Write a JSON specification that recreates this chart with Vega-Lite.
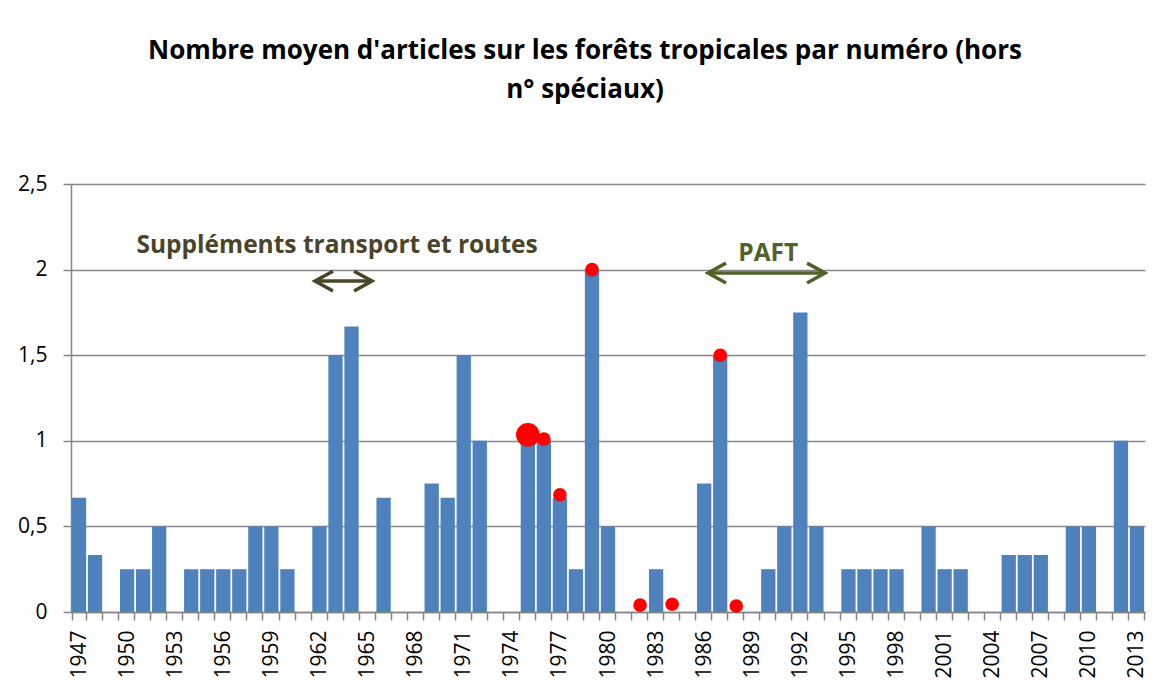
{
  "$schema": "https://vega.github.io/schema/vega-lite/v6.json",
  "width": 1074,
  "height": 428,
  "autosize": {"type": "none"},
  "padding": {"left": 71, "top": 184, "right": 8, "bottom": 85},
  "background": "white",
  "config": {
    "view": {"stroke": null},
    "font": "Open Sans",
    "title": {"font": "Open Sans", "fontSize": 26, "fontWeight": "bold", "color": "#000000", "lineHeight": 39, "anchor": "middle", "offset": 70, "dx": -23}
  },
  "title": {"text": ["Nombre moyen d'articles sur les forêts tropicales par numéro (hors", "n° spéciaux)"]},
  "datasets": {
    "barres": [
      {"annee": 1947, "valeur": 0.667}, {"annee": 1948, "valeur": 0.333}, {"annee": 1949, "valeur": 0},
      {"annee": 1950, "valeur": 0.25}, {"annee": 1951, "valeur": 0.25}, {"annee": 1952, "valeur": 0.5},
      {"annee": 1953, "valeur": 0}, {"annee": 1954, "valeur": 0.25}, {"annee": 1955, "valeur": 0.25},
      {"annee": 1956, "valeur": 0.25}, {"annee": 1957, "valeur": 0.25}, {"annee": 1958, "valeur": 0.5},
      {"annee": 1959, "valeur": 0.5}, {"annee": 1960, "valeur": 0.25}, {"annee": 1961, "valeur": 0},
      {"annee": 1962, "valeur": 0.5}, {"annee": 1963, "valeur": 1.5}, {"annee": 1964, "valeur": 1.667},
      {"annee": 1965, "valeur": 0}, {"annee": 1966, "valeur": 0.667}, {"annee": 1967, "valeur": 0},
      {"annee": 1968, "valeur": 0}, {"annee": 1969, "valeur": 0.75}, {"annee": 1970, "valeur": 0.667},
      {"annee": 1971, "valeur": 1.5}, {"annee": 1972, "valeur": 1.0}, {"annee": 1973, "valeur": 0},
      {"annee": 1974, "valeur": 0}, {"annee": 1975, "valeur": 1.0}, {"annee": 1976, "valeur": 1.0},
      {"annee": 1977, "valeur": 0.667}, {"annee": 1978, "valeur": 0.25}, {"annee": 1979, "valeur": 2.0},
      {"annee": 1980, "valeur": 0.5}, {"annee": 1981, "valeur": 0}, {"annee": 1982, "valeur": 0},
      {"annee": 1983, "valeur": 0.25}, {"annee": 1984, "valeur": 0}, {"annee": 1985, "valeur": 0},
      {"annee": 1986, "valeur": 0.75}, {"annee": 1987, "valeur": 1.5}, {"annee": 1988, "valeur": 0},
      {"annee": 1989, "valeur": 0}, {"annee": 1990, "valeur": 0.25}, {"annee": 1991, "valeur": 0.5},
      {"annee": 1992, "valeur": 1.75}, {"annee": 1993, "valeur": 0.5}, {"annee": 1994, "valeur": 0},
      {"annee": 1995, "valeur": 0.25}, {"annee": 1996, "valeur": 0.25}, {"annee": 1997, "valeur": 0.25},
      {"annee": 1998, "valeur": 0.25}, {"annee": 1999, "valeur": 0}, {"annee": 2000, "valeur": 0.5},
      {"annee": 2001, "valeur": 0.25}, {"annee": 2002, "valeur": 0.25}, {"annee": 2003, "valeur": 0},
      {"annee": 2004, "valeur": 0}, {"annee": 2005, "valeur": 0.333}, {"annee": 2006, "valeur": 0.333},
      {"annee": 2007, "valeur": 0.333}, {"annee": 2008, "valeur": 0}, {"annee": 2009, "valeur": 0.5},
      {"annee": 2010, "valeur": 0.5}, {"annee": 2011, "valeur": 0}, {"annee": 2012, "valeur": 1.0},
      {"annee": 2013, "valeur": 0.5}
    ],
    "points": [
      {"annee": 1975, "valeur": 1.035, "poids": 2},
      {"annee": 1976, "valeur": 1.01, "poids": 1},
      {"annee": 1977, "valeur": 0.685, "poids": 1},
      {"annee": 1979, "valeur": 2.0, "poids": 1},
      {"annee": 1982, "valeur": 0.04, "poids": 1},
      {"annee": 1984, "valeur": 0.045, "poids": 1},
      {"annee": 1987, "valeur": 1.5, "poids": 1},
      {"annee": 1988, "valeur": 0.035, "poids": 1}
    ],
    "fleches": [
      {"nom": "Suppléments", "debut": 1961.72, "fin": 1965.28, "valeur": 1.933},
      {"nom": "PAFT", "debut": 1986.24, "fin": 1993.54, "valeur": 1.98}
    ],
    "pointes": [
      {"nom": "Suppléments", "pos": 1961.72, "valeur": 1.933, "cote": "gauche"},
      {"nom": "Suppléments", "pos": 1965.28, "valeur": 1.933, "cote": "droite"},
      {"nom": "PAFT", "pos": 1986.24, "valeur": 1.98, "cote": "gauche"},
      {"nom": "PAFT", "pos": 1993.54, "valeur": 1.98, "cote": "droite"}
    ],
    "textes": [
      {"nom": "Suppléments", "texte": "Suppléments transport et routes", "pos": 1963.1, "valeur": 2.14},
      {"nom": "PAFT", "texte": "PAFT", "pos": 1990.0, "valeur": 2.09}
    ]
  },
  "resolve": {"scale": {"x": "independent"}},
  "layer": [
    {
      "layer": [
        {
          "data": {"name": "barres"},
          "mark": {"type": "bar", "color": "#4F81BD"},
          "encoding": {
            "x": {
              "field": "annee", "type": "ordinal",
              "scale": {"paddingInner": 0.11, "paddingOuter": 0.055},
              "axis": {
                "title": null, "labelAngle": 270, "labelOverlap": false,
                "labelExpr": "(datum.value - 1947) % 3 == 0 ? datum.label : ''",
                "labelFont": "Open Sans", "labelFontSize": 21, "labelColor": "#000000",
                "labelPadding": 10, "tickBand": "extent", "tickSize": 8,
                "tickColor": "#868686", "tickWidth": 1.5, "domainColor": "#868686", "domainWidth": 1.5,
                "grid": false
              }
            },
            "y": {
              "field": "valeur", "type": "quantitative",
              "scale": {"domain": [0, 2.5], "nice": false},
              "axis": {
                "title": null, "values": [0, 0.5, 1, 1.5, 2, 2.5],
                "labelExpr": "replace(toString(datum.value), '.', ',')",
                "labelFont": "Open Sans", "labelFontSize": 21, "labelColor": "#000000",
                "labelPadding": 16, "tickSize": 8, "tickColor": "#868686", "tickWidth": 1.5,
                "domainColor": "#868686", "domainWidth": 1.5,
                "grid": true, "gridColor": "#878787", "gridWidth": 1.5
              }
            }
          }
        },
        {
          "data": {"name": "points"},
          "mark": {"type": "circle", "color": "#FF0000", "opacity": 1},
          "encoding": {
            "x": {"field": "annee", "type": "ordinal"},
            "y": {"field": "valeur", "type": "quantitative"},
            "size": {"field": "poids", "type": "quantitative", "scale": {"domain": [1, 2], "range": [185, 560]}, "legend": null}
          }
        }
      ]
    },
    {
      "layer": [
        {
          "data": {"name": "fleches"},
          "mark": {"type": "rule", "strokeWidth": 3.5},
          "encoding": {
            "x": {"field": "debut", "type": "quantitative", "scale": {"domain": [1946.5, 2013.5], "nice": false, "zero": false}, "axis": null},
            "x2": {"field": "fin"},
            "y": {"field": "valeur", "type": "quantitative", "title": null},
            "color": {"field": "nom", "type": "nominal", "scale": {"domain": ["Suppléments", "PAFT"], "range": ["#4A452A", "#4F6228"]}, "legend": null}
          }
        },
        {
          "data": {"name": "pointes"},
          "mark": {"type": "point", "filled": false, "strokeWidth": 3.5, "size": 324, "opacity": 1},
          "encoding": {
            "x": {"field": "pos", "type": "quantitative", "axis": null},
            "y": {"field": "valeur", "type": "quantitative", "title": null},
            "shape": {"field": "cote", "type": "nominal", "scale": {"domain": ["gauche", "droite"], "range": ["M2,-1.1L0,0L2,1.1", "M-2,-1.1L0,0L-2,1.1"]}, "legend": null},
            "color": {"field": "nom", "type": "nominal", "legend": null}
          }
        },
        {
          "data": {"name": "textes"},
          "mark": {"type": "text", "font": "Open Sans", "fontWeight": "bold", "fontSize": 24.5, "baseline": "middle", "align": "center"},
          "encoding": {
            "x": {"field": "pos", "type": "quantitative", "axis": null},
            "y": {"field": "valeur", "type": "quantitative", "title": null},
            "text": {"field": "texte"},
            "color": {"field": "nom", "type": "nominal", "legend": null}
          }
        }
      ]
    }
  ]
}
